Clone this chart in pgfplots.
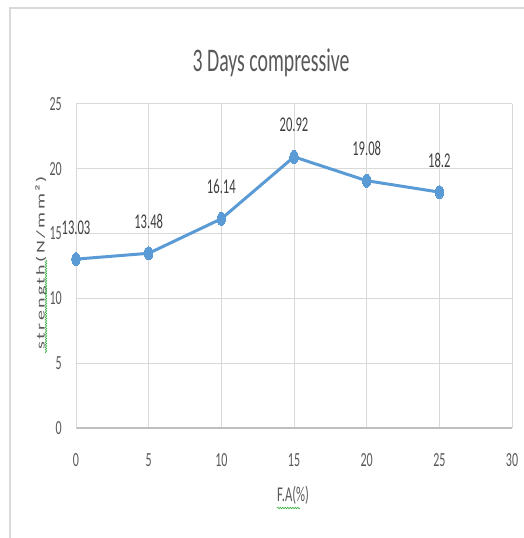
\documentclass[border=0pt]{standalone}
\usepackage{pgfplots}
\pgfplotsset{compat=1.18}
\usepackage{fontspec}
\setmainfont[FakeStretch=0.6]{Carlito}
\newfontfamily\ylabfont[LetterSpace=12]{Carlito}
\usetikzlibrary{decorations.pathmorphing}
\definecolor{txt}{HTML}{595959}
\definecolor{lbl}{HTML}{404040}
\definecolor{gridc}{HTML}{D9D9D9}
\definecolor{axisc}{HTML}{BFBFBF}
\definecolor{series}{HTML}{5B9BD5}
\definecolor{spell}{HTML}{3CB043}

\begin{document}
\begin{tikzpicture}[x=1bp,y=1bp]
% canvas and chart-area frame
\path[use as bounding box, fill=white] (0,0) rectangle (524,538);
\draw[gridc, line width=1.5bp] (10,-10) -- (10,530) -- (540,530);
\node[txt, font=\fontsize{33bp}{38bp}\selectfont] at (271,475) {3 Days compressive};

\begin{axis}[
  at={(76bp,110bp)}, anchor=origin,
  scale only axis, width=436bp, height=324bp,
  xmin=0, xmax=30, ymin=0, ymax=25,
  xtick={0,5,...,30}, ytick={0,5,...,25},
  axis lines*=left, axis line style={-},
  x axis line style={draw=axisc, line width=1.5bp},
  y axis line style={draw=gridc, line width=1bp},
  grid=major, major grid style={draw=gridc, line width=1bp},
  tick style={draw=none},
  /pgf/number format/assume math mode=true,
  ticklabel style={txt, font=\fontsize{20bp}{24bp}\selectfont, inner sep=0pt},
  xticklabel style={anchor=north, yshift=-25bp},
  yticklabel style={anchor=east, xshift=-14bp},
  xlabel={F.A(\%)},
  xlabel style={at={(axis description cs:0.498,0)}, anchor=north, inner sep=0pt,
    yshift=-58bp, txt, font=\fontsize{21bp}{25bp}\selectfont},
  ylabel={\scalebox{1}[0.6]{\ylabfont\fontsize{20bp}{24bp}\selectfont strength(N/mm²)}},
  ylabel style={at={(axis description cs:0,0.51)}, anchor=center, inner sep=0pt,
    yshift=35bp, txt},
  clip=false,
]
\addplot[series, line width=3bp, mark=*, mark size=6.5bp,
  mark options={xscale=0.65, fill=series, draw=series, line width=0pt},
  nodes near coords={\pgfmathprintnumber[fixed, precision=2]{\pgfplotspointmeta}},
  every node near coord/.append style={lbl, anchor=base, yshift=25bp, inner sep=0pt,
    font=\fontsize{21bp}{25bp}\selectfont}]
  coordinates {(0,13.03) (5,13.48) (10,16.14) (15,20.92) (20,19.08) (25,18.2)};
\end{axis}

% proofing underlines beneath the axis titles
\draw[spell, line width=0.6bp, decorate, decoration={snake, amplitude=0.8bp, segment length=2.5bp}]
  (277,30) -- (300,30);
\draw[spell, line width=0.6bp, decorate, decoration={snake, amplitude=0.8bp, segment length=2.5bp}]
  (46,185) -- (46,278);
\end{tikzpicture}
\end{document}
